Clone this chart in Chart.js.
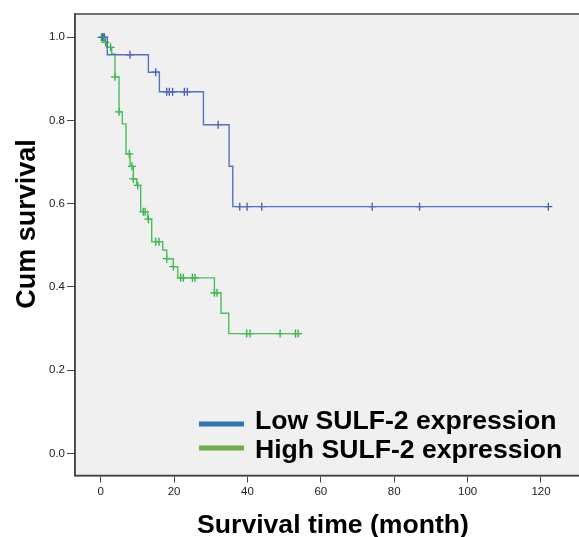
<!DOCTYPE html>
<html lang="en">
<head>
    <meta charset="UTF-8">
    <title>Kaplan-Meier SULF-2</title>
    <style>
        html, body { margin: 0; padding: 0; background: #fff; overflow: hidden; }
        #wrap { width: 600px; height: 537px; }
    </style>
</head>
<body>
    <div id="wrap"><canvas id="myChart" width="600" height="537"></canvas></div>
</body>
<script src="https://cdn.jsdelivr.net/npm/chart.js@4"></script>

<script>
    // step points: time (month) where survival drops, and survival after the drop
    const lowTime = [0, 1.8, 13, 16, 28, 35, 36, 122];
    const lowSurv = [1.0, 0.958, 0.916, 0.869, 0.79, 0.69, 0.593, 0.593];
    const lowCensor = [0.5, 1.0, 8, 15, 18, 18.7, 19.6, 22.8, 23.6, 32, 37.9, 39.9, 43.9, 74, 86.9, 122];

    const highTime = [0, 1, 1.6, 3, 3.9, 5, 5.9, 6.9, 8, 8.9, 9.8, 10.9, 12.8, 13.9, 16.9, 18, 19.8, 21, 31, 32.8, 34.9, 54];
    const highSurv = [1.0, 0.988, 0.976, 0.96, 0.905, 0.821, 0.792, 0.72, 0.69, 0.66, 0.644, 0.581, 0.563, 0.509, 0.489, 0.468, 0.449, 0.422, 0.386, 0.337, 0.288, 0.288];
    const highCensor = [0.2, 0.7, 1.3, 2.7, 3.9, 5, 7.8, 8.5, 8.9, 10.1, 11.6, 12.1, 13, 15, 15.9, 18, 19.8, 21.8, 22.5, 25, 25.7, 31, 31.7, 39.8, 40.7, 48.9, 53.1, 53.8];

    const xTicks = [0, 20, 40, 60, 80, 100, 120];
    const yTicks = [0, 0.2, 0.4, 0.6, 0.8, 1.0];

    const seriesNames = ['Low SULF-2 expression', 'High SULF-2 expression'];
    const FONT = 'Arial, "Liberation Sans", sans-serif';

    function steps(times, surv) {
        return times.map((t, i) => ({x: t, y: surv[i]}));
    }
    // survival value at a censored time
    function marks(censor, times, surv) {
        return censor.map(c => {
            let v = surv[0];
            for (let i = 0; i < times.length; i++) {
                if (times[i] <= c) v = surv[i];
            }
            return {x: c, y: v};
        });
    }

    const frame = {
        id: 'frame',
        beforeDraw(chart) {
            const a = chart.chartArea, c = chart.ctx;
            c.save();
            c.fillStyle = '#f0f0f0';
            c.fillRect(a.left, a.top, a.right - a.left, a.bottom - a.top);
            c.restore();
        },
        afterDraw(chart) {
            const a = chart.chartArea, c = chart.ctx;
            c.save();
            c.strokeStyle = '#444';
            c.lineWidth = 1.5;
            c.strokeRect(a.left, a.top, a.right - a.left, a.bottom - a.top);

            // legend
            const sw = ['#2e75b6', '#70ad47'];
            const ys = [424, 448];
            const base = [429, 457.5];
            c.lineWidth = 5;
            c.font = 'bold 26.6px ' + FONT;
            c.fillStyle = '#000';
            c.textBaseline = 'alphabetic';
            c.textAlign = 'left';
            for (let i = 0; i < 2; i++) {
                c.strokeStyle = sw[i];
                c.beginPath();
                c.moveTo(199, ys[i]);
                c.lineTo(244, ys[i]);
                c.stroke();
                c.fillText(seriesNames[i], 255, base[i]);
            }

            // axis titles
            c.textAlign = 'center';
            c.fillText('Survival time (month)', 333, 533);
            c.font = 'bold 27px ' + FONT;
            c.translate(35, 224);
            c.rotate(-Math.PI / 2);
            c.fillText('Cum survival', 0, 0);
            c.restore();
        }
    };

    var ctx = document.getElementById('myChart').getContext('2d');
    var chart = new Chart(ctx, {
        type: 'line',
        data: {
            datasets: [
                {
                    label: seriesNames[0],
                    data: steps(lowTime, lowSurv),
                    borderColor: '#5670c2',
                    borderWidth: 1.4,
                    stepped: 'before',
                    pointRadius: 0,
                    fill: false
                },
                {
                    label: seriesNames[1],
                    data: steps(highTime, highSurv),
                    borderColor: '#48c058',
                    borderWidth: 1.4,
                    stepped: 'before',
                    pointRadius: 0,
                    fill: false
                },
                {
                    type: 'scatter',
                    label: 'low censored',
                    data: marks(lowCensor, lowTime, lowSurv),
                    pointStyle: 'cross',
                    pointRadius: 4,
                    borderColor: '#3d57b3',
                    borderWidth: 1.3,
                    showLine: false
                },
                {
                    type: 'scatter',
                    label: 'high censored',
                    data: marks(highCensor, highTime, highSurv),
                    pointStyle: 'cross',
                    pointRadius: 4,
                    borderColor: '#2eae3e',
                    borderWidth: 1.3,
                    showLine: false
                }
            ]
        },
        options: {
            responsive: false,
            animation: false,
            layout: {padding: {top: 14, right: 8, bottom: 0, left: 0}},
            plugins: {
                legend: {display: false},
                tooltip: {enabled: false}
            },
            scales: {
                x: {
                    type: 'linear',
                    min: -7,
                    max: 133.9,
                    afterBuildTicks: s => { s.ticks = xTicks.map(v => ({value: v})); },
                    afterFit: s => { s.height = 61.5; },
                    grid: {drawOnChartArea: false, drawTicks: true, tickLength: 7, color: '#444'},
                    border: {display: true, color: '#444', width: 1.5},
                    ticks: {font: {family: FONT, size: 11.5}, color: '#222', padding: 2, maxRotation: 0}
                },
                y: {
                    type: 'linear',
                    min: -0.053,
                    max: 1.056,
                    afterBuildTicks: s => { s.ticks = yTicks.map(v => ({value: v})); },
                    afterFit: s => { s.width = 75; },
                    grid: {drawOnChartArea: false, drawTicks: true, tickLength: 8, color: '#444'},
                    border: {display: true, color: '#444', width: 1.5},
                    ticks: {
                        font: {family: FONT, size: 11.5},
                        color: '#222',
                        padding: 2,
                        callback: v => v.toFixed(1)
                    }
                }
            }
        },
        plugins: [frame]
    });
</script>
</html>
